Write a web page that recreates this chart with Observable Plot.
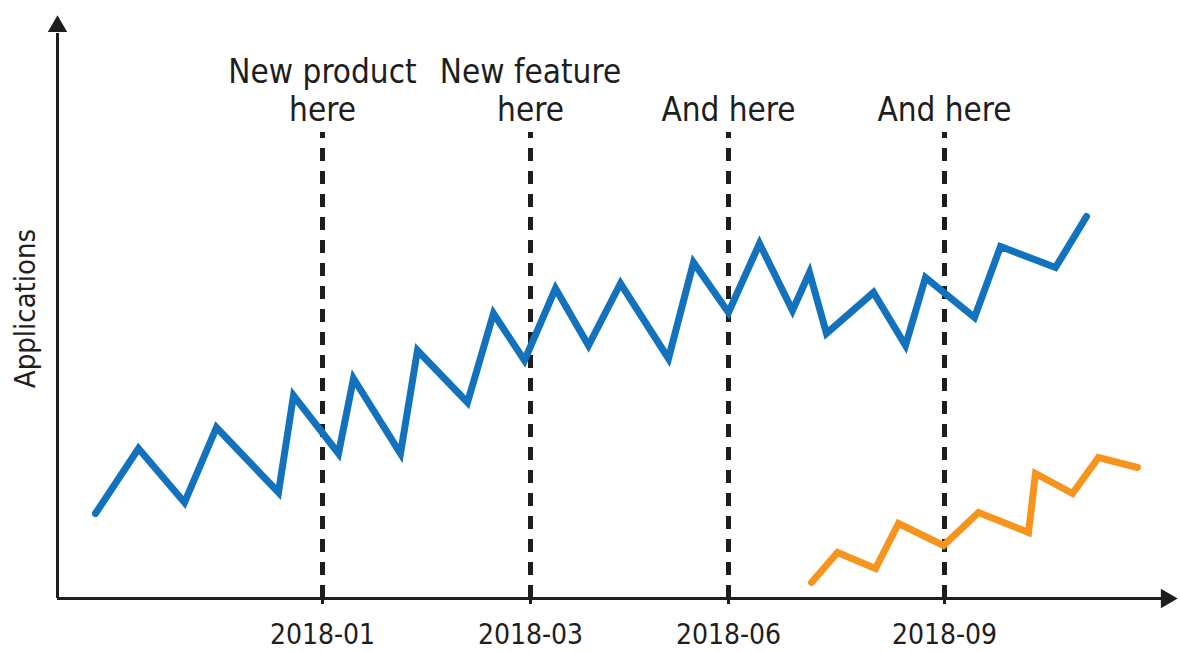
<!DOCTYPE html>
<html>
<head>
<meta charset="utf-8">
<script src="https://cdn.jsdelivr.net/npm/d3@7"></script>
<script src="https://cdn.jsdelivr.net/npm/@observablehq/plot@0.6"></script>
<style>
  html, body { margin: 0; padding: 0; background: #fff; }
</style>
</head>
<body>
<div id="chart"></div>
<script>
// Period index (x) and application counts (y, arbitrary units)
const blueX = [3.8, 8.1, 12.7, 15.9, 22.1, 23.6, 28.1, 29.6, 34.3, 36.0, 41.0, 43.6, 46.7, 49.8, 53.1, 56.3, 61.1, 63.6, 67.1, 70.2, 73.5, 75.2, 76.9, 81.6, 84.8, 86.8, 91.7, 94.3, 99.8, 102.9];
const blueY = [8.5, 15.0, 9.6, 17.1, 10.6, 20.3, 14.5, 22.0, 14.5, 24.8, 19.6, 28.5, 23.8, 31.0, 25.3, 31.5, 24.0, 33.6, 28.6, 35.5, 28.8, 32.6, 26.5, 30.6, 25.3, 32.1, 28.1, 35.2, 33.1, 38.2];
const orangeX = [75.4, 78.0, 81.8, 84.1, 88.6, 92.1, 97.1, 97.8, 101.5, 104.1, 108.0];
const orangeY = [1.6, 4.6, 3.0, 7.5, 5.3, 8.6, 6.6, 12.5, 10.5, 14.1, 13.1];

const eventX = [26.5, 47.3, 67.1, 88.7];
const eventLabels = ["New product\nhere", "New feature\nhere", "And here", "And here"];
const tickLabels = ["2018-01", "2018-03", "2018-06", "2018-09"];
const yLabel = "Applications";

const xMax = 111.8, yMax = 58;
const ruleTop = 46.6, labelY = 47.8;

const blue = blueX.map((x, i) => ({x, y: blueY[i]}));
const orange = orangeX.map((x, i) => ({x, y: orangeY[i]}));
const events = eventX.map((x, i) => ({x, label: eventLabels[i], tick: tickLabels[i]}));

const font = "'DejaVu Sans Condensed', 'Liberation Sans Narrow', 'Roboto Condensed', sans-serif";
const ink = "#1e1e1e";

const chart = Plot.plot({
  width: 1180,
  height: 652,
  marginLeft: 57,
  marginRight: 5,
  marginTop: 18,
  marginBottom: 54,
  style: {fontFamily: font, background: "#fff", color: ink, overflow: "visible"},
  x: {domain: [0, xMax]},
  y: {domain: [0, yMax], axis: null},
  marks: [
    // event dashed rules
    Plot.ruleX(events, {x: "x", y1: 0, y2: ruleTop, stroke: ink, strokeWidth: 5, strokeDasharray: "13,10"}),
    // x axis: ticks and labels only at events
    Plot.axisX({ticks: eventX, tickFormat: (d, i) => tickLabels[i], tickSize: 6, tickPadding: 20, fontSize: 28, stroke: ink, strokeWidth: 3, fill: ink, label: null}),
    // axis lines
    Plot.ruleY([0], {x1: 0, x2: xMax - 1, stroke: ink, strokeWidth: 3}),
    Plot.ruleX([0], {y1: 0, y2: yMax - 1.5, stroke: ink, strokeWidth: 3}),
    // arrowheads
    Plot.dot([{x: 0, y: yMax - 0.8}], {x: "x", y: "y", symbol: "triangle", r: 7.2, fill: ink, stroke: "none"}),
    Plot.dot([{x: xMax - 0.9, y: 0}], {x: "x", y: "y", symbol: "triangle", r: 7.2, rotate: 90, fill: ink, stroke: "none"}),
    // series
    Plot.line(blue, {x: "x", y: "y", stroke: "#1272be", strokeWidth: 7, strokeLinejoin: "miter", strokeLinecap: "round", strokeMiterlimit: 10}),
    Plot.line(orange, {x: "x", y: "y", stroke: "#f7941e", strokeWidth: 7, strokeLinejoin: "miter", strokeLinecap: "round", strokeMiterlimit: 10}),
    // event annotations
    Plot.text(events, {x: "x", y: labelY, text: "label", lineAnchor: "bottom", lineHeight: 1.13, fontSize: 33, fill: ink, textAnchor: "middle"}),
    // y label
    Plot.text([yLabel], {frameAnchor: "left", dx: -32, rotate: -90, textAnchor: "middle", lineAnchor: "middle", fontSize: 29, fill: ink})
  ]
});

document.getElementById("chart").appendChild(chart);
</script>
</body>
</html>
